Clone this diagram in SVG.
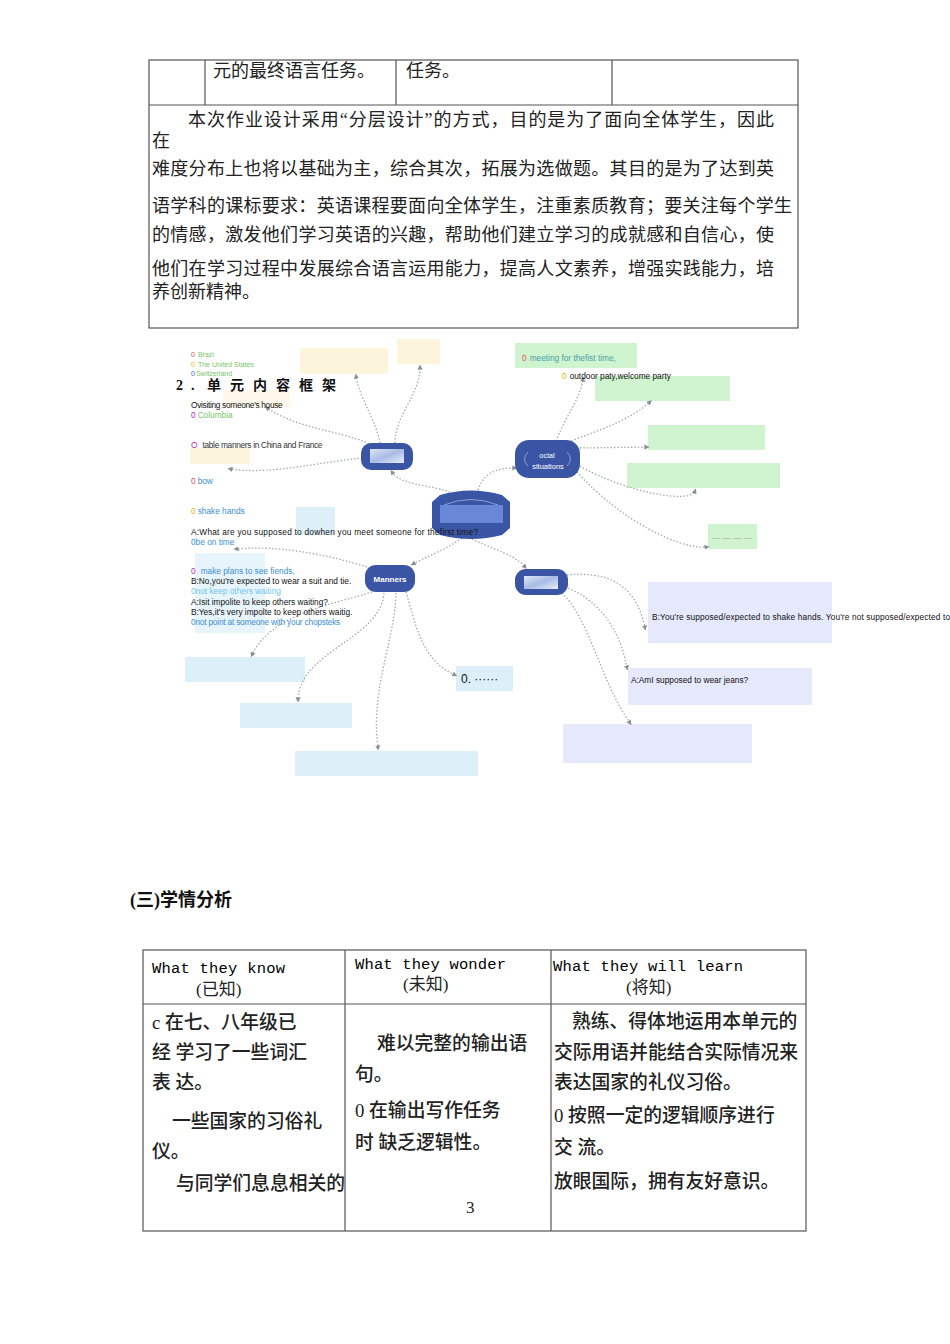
<svg xmlns="http://www.w3.org/2000/svg" width="950" height="1344" viewBox="0 0 950 1344">
<style>
.cn{font-family:"Liberation Serif","Noto Sans CJK SC",serif;fill:#222}
.t18{font-size:18px}
.t19{font-size:18.8px;font-weight:500}
.mono{font-family:"Liberation Mono","Noto Sans CJK SC",monospace;font-size:15.5px;fill:#000}
.s{font-family:"Liberation Sans",Arial,sans-serif;font-size:8.3px;fill:#111}
.grid{stroke:#555;stroke-width:1.2;fill:none}
.con{fill:none;stroke:#9ea4ab;stroke-width:1.3;stroke-dasharray:1.4 2;marker-end:url(#dot)}
.node{fill:#3b55a5}
.g{fill:#d0f4cf}
.l{fill:#e6e8fb}
.b{fill:#ddf0fa}
.y{fill:#fdf4dc}
.red{fill:#d9534f}.yel{fill:#f0b400}.blu0{fill:#4a5fd0}.mag{fill:#c02ab8}
.grn{fill:#7cc46a}.bl{fill:#3c8fd0}.lbl{fill:#6dc7ee}.teal{fill:#4aa0a8}
</style>
<defs>
<marker id="dot" viewBox="0 0 6 6" refX="3" refY="3" markerWidth="4" markerHeight="4" orient="auto">
<path d="M0 0 L6 3 L0 6 Z" fill="#8a9098"/>
</marker>
<linearGradient id="inner" x1="0" y1="0" x2="1" y2="1">
<stop offset="0" stop-color="#dfe6f5"/><stop offset="0.5" stop-color="#a9bbe6"/><stop offset="1" stop-color="#e8eefa"/>
</linearGradient>
</defs>
<rect width="950" height="1344" fill="#fff"/>

<!-- top table -->
<g id="top-table">
<rect class="grid" x="149" y="60" width="649" height="268"/>
<line class="grid" x1="149" y1="105" x2="798" y2="105"/>
<line class="grid" x1="205" y1="60" x2="205" y2="105"/>
<line class="grid" x1="396" y1="60" x2="396" y2="105"/>
<line class="grid" x1="612" y1="60" x2="612" y2="105"/>
<text class="cn t18" x="213" y="77">元的最终语言任务。</text>
<text class="cn t18" x="406" y="77">任务。</text>
<text class="cn t18" x="188" y="126" textLength="586">本次作业设计采用“分层设计”的方式，目的是为了面向全体学生，因此</text>
<text class="cn t18" x="152" y="147">在</text>
<text class="cn t18" x="152" y="175" textLength="622">难度分布上也将以基础为主，综合其次，拓展为选做题。其目的是为了达到英</text>
<text class="cn t18" x="152" y="212" textLength="640">语学科的课标要求：英语课程要面向全体学生，注重素质教育；要关注每个学生</text>
<text class="cn t18" x="152" y="241" textLength="622">的情感，激发他们学习英语的兴趣，帮助他们建立学习的成就感和自信心，使</text>
<text class="cn t18" x="152" y="275" textLength="622">他们在学习过程中发展综合语言运用能力，提高人文素养，增强实践能力，培</text>
<text class="cn t18" x="152" y="298">养创新精神。</text>
</g>

<!-- mind map boxes -->
<g id="boxes">
<rect class="y" x="300" y="348" width="88" height="26"/>
<rect class="y" x="397" y="339" width="43" height="25"/>
<rect class="y" x="223" y="390" width="67" height="17" opacity="0.6"/>
<rect class="y" x="190" y="448" width="60" height="16"/>
<rect class="g" x="515" y="343" width="122" height="25"/>
<rect class="g" x="595" y="376" width="135" height="25"/>
<rect class="g" x="648" y="425" width="117" height="25"/>
<rect class="g" x="627" y="463" width="153" height="25"/>
<rect class="g" x="708" y="524" width="49" height="25"/>
<rect class="l" x="648" y="582" width="184" height="61"/>
<rect class="l" x="628" y="668" width="184" height="37"/>
<rect class="l" x="563" y="724" width="189" height="39"/>
<rect class="b" x="296" y="507" width="39" height="28"/>
<rect class="b" x="195" y="553" width="70" height="80" opacity="0.7"/>
<rect class="b" x="185" y="657" width="120" height="25"/>
<rect class="b" x="240" y="703" width="112" height="25"/>
<rect class="b" x="295" y="751" width="183" height="25"/>
<rect class="b" x="456" y="666" width="57" height="25"/>
</g>

<!-- connectors -->
<g id="connectors">
<path class="con" d="M380 443 C376 420 360 400 356 376"/>
<path class="con" d="M395 443 C395 415 420 395 420 367"/>
<path class="con" d="M372 445 C340 430 300 430 267 408"/>
<path class="con" d="M362 458 C320 462 270 475 230 469"/>
<path class="con" d="M450 492 C430 485 400 485 392 472"/>
<path class="con" d="M478 490 C485 470 500 468 515 468"/>
<path class="con" d="M556 441 C566 415 580 400 583 379"/>
<path class="con" d="M568 442 C600 430 630 420 650 402"/>
<path class="con" d="M580 448 L647 447"/>
<path class="con" d="M580 466 C620 490 690 505 695 491"/>
<path class="con" d="M577 472 C620 520 680 550 707 547"/>
<path class="con" d="M462 538 C445 550 430 555 413 564"/>
<path class="con" d="M472 539 C495 550 515 555 525 567"/>
<path class="con" d="M370 568 C330 555 280 545 236 549"/>
<path class="con" d="M372 592 C330 605 270 615 252 655"/>
<path class="con" d="M384 593 C380 640 300 650 298 700"/>
<path class="con" d="M396 593 C395 640 370 690 378 748"/>
<path class="con" d="M406 592 C415 620 420 660 455 675"/>
<path class="con" d="M567 575 C600 572 635 578 645 628"/>
<path class="con" d="M565 587 C600 600 620 630 627 668"/>
<path class="con" d="M562 593 C590 620 600 680 630 723"/>
</g>

<!-- nodes -->
<g id="node-center">
<path class="node" d="M440 495 Q471 486 502 495 L510 502 L510 528 L502 535 Q471 543 440 535 L432 528 L432 502 Z"/>
<path d="M444 505 Q471 494 498 505" fill="none" stroke="#8aa0da" stroke-width="1"/>
<rect x="440" y="505" width="63" height="18" fill="#6a86d6"/>
</g>
<g id="node-ul">
<rect class="node" x="361" y="443" width="52" height="27" rx="10"/>
<rect x="370" y="449" width="34" height="14" fill="url(#inner)"/>
</g>
<g id="node-social">
<rect class="node" x="515" y="440" width="65" height="38" rx="14"/>
<path d="M528 452 Q521 459 528 466 M567 452 Q574 459 567 466" fill="none" stroke="#8aa0da" stroke-width="1"/>
<text class="s" x="547" y="458" text-anchor="middle" style="fill:#fff;font-size:7.5px">ocial</text>
<text class="s" x="548" y="469" text-anchor="middle" style="fill:#fff;font-size:7.5px">situations</text>
</g>
<g id="node-manners">
<rect class="node" x="365" y="565" width="50" height="27" rx="11"/>
<text class="s" x="390" y="582" text-anchor="middle" style="fill:#fff;font-size:8px;font-weight:bold">Manners</text>
</g>
<g id="node-lr">
<rect class="node" x="515" y="569" width="53" height="26" rx="11"/>
<rect x="524" y="576" width="34" height="13" fill="url(#inner)"/>
</g>

<!-- mind map texts -->
<g id="labels">
<text class="cn" x="176" y="390" style="font-size:14px;font-weight:bold;fill:#111"><tspan x="176">2</tspan><tspan x="191">.</tspan><tspan x="207">单</tspan><tspan x="230">元</tspan><tspan x="253">内</tspan><tspan x="276">容</tspan><tspan x="299">框</tspan><tspan x="322">架</tspan></text>
<text class="s" x="191" y="357" style="font-size:7px"><tspan class="red">0</tspan><tspan class="grn" dx="3">Brazl</tspan></text>
<text class="s" x="191" y="367" style="font-size:7px"><tspan class="yel">0</tspan><tspan class="grn" dx="3">The United States</tspan></text>
<text class="s" x="191" y="376" style="font-size:7px"><tspan class="blu0">0</tspan><tspan class="grn" dx="1">Switzerland</tspan></text>
<text class="s" x="191" y="408" style="letter-spacing:-0.3px">Ovisiting someone's  house</text>
<text class="s" x="191" y="418"><tspan class="mag">0</tspan><tspan class="grn" dx="2">Columbia</tspan></text>
<text class="s" x="191" y="448"><tspan class="mag">O</tspan><tspan dx="5" style="fill:#333;letter-spacing:-0.3px">table manners  in China and  France</tspan></text>
<text class="s" x="191" y="484"><tspan class="red">0</tspan><tspan class="bl" dx="2">bow</tspan></text>
<text class="s" x="191" y="514"><tspan class="yel">0</tspan><tspan class="bl" dx="2">shake  hands</tspan></text>
<text class="s" x="191" y="535" textLength="287">A:What are you supposed to dowhen you meet someone for thefirst time?</text>
<text class="s bl" x="191" y="545">0be on time</text>
<text class="s" x="191" y="574"><tspan class="mag">0</tspan><tspan class="bl" dx="5">make plans to see fiends,</tspan></text>
<text class="s" x="191" y="584">B:No,you're expected to wear a suit and tie.</text>
<text class="s lbl" x="191" y="594">0not keep others waiting</text>
<text class="s" x="191" y="605">A:Isit impolite to keep others waiting?</text>
<text class="s" x="191" y="615">B:Yes,it's very impolte to keep others waitig.</text>
<text class="s bl" x="191" y="625" style="letter-spacing:-0.2px">0not point at someone with your chopsteks</text>
<text class="s" x="522" y="361"><tspan class="red">0</tspan><tspan class="teal" dx="3">meeting for thefist time,</tspan></text>
<text class="s" x="562" y="379"><tspan class="yel">0</tspan><tspan dx="3">outdoor paty,welcome party</tspan></text>
<text class="s" x="732" y="541" text-anchor="middle" style="fill:#9ab09a">— — — —</text>
<text class="s" x="652" y="620" textLength="298">B:You're supposed/expected to shake hands. You're not supposed/expected to</text>
<text class="s" x="631" y="683">A:AmI supposed to wear jeans?</text>
<text class="s" x="461" y="683" style="font-size:12px">0. ······</text>
</g>

<!-- bottom section -->
<g id="bottom">
<text class="cn" x="130" y="906" style="font-size:18px;font-weight:bold;fill:#111">(三)学情分析</text>
<rect class="grid" x="143" y="950" width="663" height="281"/>
<line class="grid" x1="143" y1="1004" x2="806" y2="1004"/>
<line class="grid" x1="345" y1="950" x2="345" y2="1231"/>
<line class="grid" x1="551" y1="950" x2="551" y2="1231"/>
<text class="mono" x="152" y="973" textLength="133">What  they know</text>
<text class="cn" x="196" y="995" style="font-size:17px">(已知)</text>
<text class="mono" x="355" y="969" textLength="151">What  they wonder</text>
<text class="cn" x="403" y="990" style="font-size:17px">(未知)</text>
<text class="mono" x="553" y="971" textLength="190">What they will  learn</text>
<text class="cn" x="626" y="993" style="font-size:17px">(将知)</text>

<text class="cn t19" x="152" y="1029">c 在七、八年级已</text>
<text class="cn t19" x="152" y="1059">经  学习了一些词汇</text>
<text class="cn t19" x="152" y="1089">表    达。</text>
<text class="cn t19" x="172" y="1128">一些国家的习俗礼</text>
<text class="cn t19" x="152" y="1158">仪。</text>
<text class="cn t19" x="176" y="1190">与同学们息息相关的</text>

<text class="cn t19" x="377" y="1050">难以完整的输出语</text>
<text class="cn t19" x="355" y="1081">句。</text>
<text class="cn t19" x="355" y="1117">0 在输出写作任务</text>
<text class="cn t19" x="355" y="1149">时  缺乏逻辑性。</text>
<text class="cn" x="466" y="1213" style="font-size:17px">3</text>

<text class="cn t19" x="572" y="1028">熟练、得体地运用本单元的</text>
<text class="cn t19" x="554" y="1059">交际用语并能结合实际情况来</text>
<text class="cn t19" x="554" y="1089">表达国家的礼仪习俗。</text>
<text class="cn t19" x="554" y="1122">0 按照一定的逻辑顺序进行</text>
<text class="cn t19" x="554" y="1154">交  流。</text>
<text class="cn t19" x="554" y="1188">放眼国际，拥有友好意识。</text>
</g>
</svg>
